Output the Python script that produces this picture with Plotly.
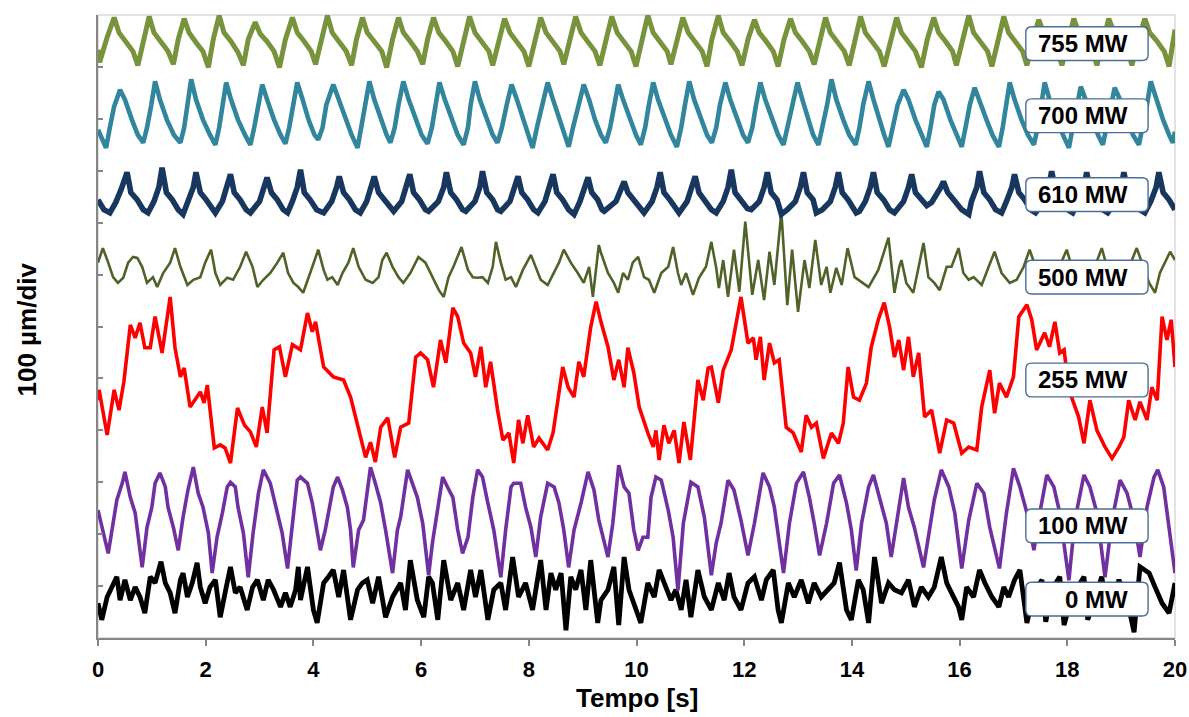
import plotly.graph_objects as go

# ---------------- data (time in s, displacement in µm relative to each trace's baseline) -------------
labels = ["755 MW", "700 MW", "610 MW", "500 MW", "255 MW", "100 MW", "0 MW"]
colors = ["#77933C", "#31859C", "#17375E", "#4F6228", "#FF0000", "#7030A0", "#000000"]
widths = [5.0, 4.6, 5.6, 2.6, 3.6, 3.6, 4.8]
baseline_um = [1147, 1010, 858, 709, 497, 227, 79]
label_center_um = [1145, 1006, 854, 695, 497, 216, 75]

p755 = [(0.00,-14),(0.03,-38),(0.17,10),
(0.30,48),(0.39,19),(0.52,2),(0.65,-17),(0.74,-44),(0.84,6),
(0.95,50),(1.04,19),(1.17,2),(1.30,-17),(1.40,-42),(1.49,6),
(1.60,46),(1.69,19),(1.82,0),(1.95,-17),(2.05,-48),(2.14,6),
(2.25,52),(2.34,19),(2.47,2),(2.60,-19),(2.70,-44),(2.79,6),
(2.92,39),(3.01,17),(3.14,2),(3.27,-17),(3.37,-48),(3.48,6),
(3.61,48),(3.70,19),(3.83,2),(3.96,-17),(4.04,-42),(4.15,6),
(4.26,52),(4.35,19),(4.48,2),(4.61,-17),(4.71,-44),(4.80,6),
(4.91,48),(5.00,19),(5.13,2),(5.27,-17),(5.36,-48),(5.47,6),
(5.58,48),(5.67,19),(5.80,2),(5.93,-17),(6.03,-42),(6.12,6),
(6.23,48),(6.33,19),(6.46,2),(6.59,-17),(6.68,-46),(6.79,6),
(6.90,50),(7.00,19),(7.13,2),(7.26,-17),(7.33,-44),(7.44,6),
(7.55,46),(7.65,19),(7.78,2),(7.91,-17),(8.00,-46),(8.11,6),
(8.22,48),(8.32,19),(8.45,2),(8.58,-17),(8.65,-42),(8.76,6),
(8.87,50),(8.97,19),(9.10,2),(9.23,-17),(9.32,-44),(9.43,6),
(9.54,50),(9.64,19),(9.77,2),(9.90,-17),(9.99,-46),(10.10,6),
(10.21,52),(10.31,19),(10.44,2),(10.57,-17),(10.64,-42),(10.75,6),
(10.86,48),(10.96,19),(11.09,2),(11.22,-17),(11.31,-46),(11.40,6),
(11.52,52),(11.61,19),(11.74,2),(11.87,-17),(11.96,-44),(12.07,6),
(12.19,44),(12.28,19),(12.41,2),(12.54,-17),(12.63,-46),(12.74,6),
(12.86,46),(12.95,19),(13.08,2),(13.21,-17),(13.30,-42),(13.40,6),
(13.51,48),(13.60,19),(13.73,2),(13.86,-17),(13.95,-44),(14.05,6),
(14.16,50),(14.25,19),(14.38,2),(14.51,-17),(14.60,-46),(14.72,6),
(14.83,48),(14.92,19),(15.05,2),(15.18,-17),(15.29,-48),(15.40,6),
(15.52,48),(15.61,19),(15.74,2),(15.87,-17),(15.94,-44),(16.06,6),
(16.17,52),(16.26,19),(16.39,2),(16.52,-17),(16.60,-46),(16.71,6),
(16.82,50),(16.91,19),(17.04,2),(17.17,-17),(17.25,-44),(17.36,6),
(17.47,44),(17.56,19),(17.69,2),(17.82,-17),(17.90,-44),(18.01,6),
(18.12,46),(18.21,19),(18.34,2),(18.47,-17),(18.55,-44),(18.66,6),
(18.77,46),(18.87,19),(19.00,2),(19.13,-17),(19.20,-44),(19.32,6),
(19.44,46),(19.53,19),(19.67,2),(19.80,-17),(19.89,-46),(20.00,25)]

p700 = [(0.00,-31),(0.15,-66),(0.22,-27),(0.30,14),(0.41,46),
(0.50,27),(0.63,-12),(0.74,-41),(0.84,-56),(0.91,-27),(0.99,17),(1.06,62),
(1.15,27),(1.28,-12),(1.41,-41),(1.53,-56),(1.60,-27),(1.66,17),(1.73,66),
(1.82,27),(1.95,-12),(2.08,-41),(2.18,-60),(2.25,-27),(2.31,17),(2.38,60),
(2.47,27),(2.60,-12),(2.73,-41),(2.83,-60),(2.90,-27),(2.98,17),(3.05,56),
(3.14,27),(3.27,-12),(3.39,-41),(3.48,-58),(3.55,-27),(3.63,17),(3.70,60),
(3.80,27),(3.91,-12),(4.02,-41),(4.09,-50),(4.17,-27),(4.24,17),(4.37,56),
(4.47,27),(4.60,-12),(4.71,-41),(4.82,-66),(4.89,-27),(4.97,17),(5.04,62),
(5.13,27),(5.25,-12),(5.36,-41),(5.43,-56),(5.51,-27),(5.58,17),(5.67,62),
(5.77,27),(5.90,-12),(6.01,-41),(6.12,-58),(6.20,-27),(6.27,17),(6.34,60),
(6.44,27),(6.57,-12),(6.68,-41),(6.79,-60),(6.87,-27),(6.92,17),(7.00,62),
(7.09,27),(7.22,-12),(7.33,-41),(7.42,-56),(7.50,-27),(7.59,17),(7.68,56),
(7.78,27),(7.91,-12),(8.00,-41),(8.07,-66),(8.15,-27),(8.26,17),(8.35,60),
(8.45,27),(8.58,-12),(8.67,-41),(8.74,-64),(8.82,-27),(8.93,17),(9.02,56),
(9.12,27),(9.23,-12),(9.34,-41),(9.43,-56),(9.51,-27),(9.58,17),(9.66,56),
(9.75,27),(9.88,-12),(9.99,-41),(10.08,-60),(10.16,-27),(10.23,17),(10.31,60),
(10.40,27),(10.53,-12),(10.64,-41),(10.75,-64),(10.83,-27),(10.90,17),(10.98,62),
(11.07,27),(11.20,-12),(11.31,-41),(11.40,-56),(11.48,-27),(11.55,17),(11.65,60),
(11.74,27),(11.87,-12),(11.98,-41),(12.07,-56),(12.15,-27),(12.22,17),(12.30,60),
(12.39,27),(12.52,-12),(12.63,-41),(12.73,-60),(12.80,-27),(12.89,17),(12.99,60),
(13.08,27),(13.19,-12),(13.28,-41),(13.38,-60),(13.45,-27),(13.54,17),(13.62,66),
(13.71,27),(13.84,-12),(13.95,-41),(14.07,-60),(14.14,-27),(14.21,17),(14.31,62),
(14.40,27),(14.51,-12),(14.60,-41),(14.68,-64),(14.75,-27),(14.85,17),(14.96,46),
(15.05,27),(15.18,-12),(15.29,-41),(15.39,-64),(15.46,-27),(15.53,17),(15.61,42),
(15.70,27),(15.83,-12),(15.94,-41),(16.04,-64),(16.11,-27),(16.19,17),(16.28,50),
(16.37,27),(16.50,-12),(16.61,-41),(16.73,-64),(16.80,-27),(16.86,17),(16.93,60),
(17.02,27),(17.15,-12),(17.27,-41),(17.38,-60),(17.45,-27),(17.51,17),(17.58,60),
(17.67,27),(17.80,-12),(17.92,-41),(18.03,-66),(18.10,-27),(18.18,17),(18.25,52),
(18.34,27),(18.47,-12),(18.57,-41),(18.66,-60),(18.73,-27),(18.81,17),(18.88,50),
(18.98,27),(19.11,-12),(19.22,-41),(19.33,-60),(19.40,-27),(19.48,17),(19.55,62),
(19.65,27),(19.78,-12),(19.89,-41),(19.96,-56),(20.00,-35)]

p610 = [(0.00,-14),(0.11,-33),(0.22,-39),(0.33,-19),(0.43,6),
(0.54,39),(0.61,0),(0.73,-14),(0.84,-33),(0.93,-39),(1.04,-17),(1.13,10),
(1.19,48),(1.27,0),(1.38,-14),(1.49,-33),(1.58,-42),(1.67,-17),(1.77,10),
(1.82,39),(1.90,0),(2.01,-14),(2.12,-33),(2.18,-39),(2.31,-17),(2.40,10),
(2.46,35),(2.53,0),(2.64,-14),(2.75,-33),(2.83,-39),(3.00,-17),(3.09,10),
(3.14,29),(3.22,0),(3.33,-14),(3.44,-33),(3.52,-39),(3.61,-17),(3.70,10),
(3.76,44),(3.83,0),(3.94,-14),(4.06,-33),(4.19,-39),(4.34,-17),(4.43,10),
(4.48,31),(4.56,0),(4.67,-14),(4.78,-33),(4.87,-39),(4.99,-17),(5.08,10),
(5.13,31),(5.21,0),(5.32,-14),(5.43,-31),(5.49,-36),(5.64,-17),(5.73,10),
(5.79,35),(5.86,0),(5.97,-14),(6.08,-33),(6.14,-36),(6.32,-17),(6.42,10),
(6.47,39),(6.55,0),(6.66,-14),(6.77,-33),(6.83,-36),(7.00,-17),(7.09,10),
(7.14,41),(7.22,0),(7.33,-14),(7.42,-33),(7.48,-36),(7.65,-17),(7.74,10),
(7.80,31),(7.87,0),(7.98,-14),(8.09,-33),(8.17,-39),(8.30,-17),(8.39,10),
(8.45,35),(8.52,0),(8.63,-14),(8.74,-33),(8.84,-42),(8.95,-17),(9.04,10),
(9.10,29),(9.17,0),(9.28,-14),(9.36,-33),(9.40,-36),(9.62,-17),(9.71,10),
(9.77,21),(9.84,0),(9.95,-14),(10.08,-33),(10.14,-39),(10.29,-17),(10.38,10),
(10.44,39),(10.51,0),(10.62,-14),(10.73,-33),(10.79,-39),(10.94,-17),(11.03,10),
(11.09,31),(11.16,0),(11.27,-14),(11.39,-33),(11.48,-39),(11.61,-17),(11.70,10),
(11.76,44),(11.83,0),(11.94,-14),(12.06,-31),(12.13,-33),(12.28,-17),(12.37,10),
(12.43,39),(12.50,0),(12.61,-14),(12.69,-42),(12.80,-33),(12.95,-17),(13.04,10),
(13.10,39),(13.17,0),(13.28,-14),(13.34,-39),(13.45,-33),(13.60,-17),(13.69,10),
(13.75,39),(13.82,0),(13.93,-14),(14.08,-39),(14.14,-36),(14.25,-17),(14.34,10),
(14.40,39),(14.47,0),(14.59,-14),(14.70,-33),(14.79,-39),(14.96,-17),(15.05,10),
(15.11,35),(15.18,0),(15.29,-14),(15.39,-25),(15.48,-19),(15.57,-6),(15.65,10),
(15.70,21),(15.78,0),(15.89,-14),(16.04,-33),(16.17,-42),(16.22,-17),(16.32,10),
(16.37,41),(16.45,0),(16.56,-14),(16.67,-33),(16.78,-39),(16.87,-17),(16.97,10),
(17.02,35),(17.10,0),(17.21,-14),(17.32,-33),(17.41,-39),(17.56,-17),(17.65,10),
(17.71,41),(17.79,0),(17.90,-14),(18.01,-33),(18.10,-39),(18.21,-17),(18.31,10),
(18.36,39),(18.44,0),(18.55,-14),(18.66,-33),(18.75,-39),(18.90,-17),(19.00,10),
(19.05,39),(19.13,0),(19.24,-14),(19.35,-33),(19.44,-39),(19.55,-17),(19.65,10),
(19.70,39),(19.78,0),(19.89,-14),(20.00,-33)]

p500 = [(0.00,14),(0.09,42),(0.19,14),(0.28,-14),(0.37,-25),(0.47,-15),(0.56,14),(0.65,25),
(0.73,23),(0.82,6),(0.91,-25),(1.02,-14),(1.10,-33),(1.21,-6),(1.34,14),(1.43,42),(1.53,6),
(1.66,-29),(1.77,-19),(1.90,-14),(1.99,14),(2.10,39),(2.18,-6),(2.27,-29),(2.40,-15),(2.51,-19),
(2.64,6),(2.75,35),(2.87,6),(2.96,-33),(3.07,-19),(3.20,-6),(3.33,14),(3.44,33),(3.53,-6),
(3.63,-25),(3.72,-33),(3.81,-44),(3.94,-6),(4.09,39),(4.19,0),(4.26,-19),(4.35,-14),(4.45,-29),
(4.54,-6),(4.65,14),(4.74,42),(4.84,6),(4.97,-19),(5.10,-25),(5.21,-14),(5.28,19),(5.36,33),
(5.47,6),(5.58,-14),(5.67,-25),(5.80,-6),(5.95,25),(6.08,14),(6.21,-14),(6.33,-39),(6.42,-52),
(6.51,-14),(6.60,6),(6.75,44),(6.87,0),(6.96,-14),(7.05,-15),(7.14,-14),(7.24,-25),(7.33,6),
(7.39,54),(7.48,14),(7.57,-19),(7.67,-14),(7.76,-33),(7.89,0),(8.04,29),(8.13,6),(8.22,-19),
(8.35,-29),(8.47,-6),(8.56,14),(8.65,39),(8.78,14),(8.91,-6),(9.02,-25),(9.12,6),(9.19,-52),
(9.30,48),(9.34,33),(9.47,-6),(9.58,-25),(9.66,-44),(9.75,-6),(9.84,-19),(9.93,14),(10.03,25),
(10.14,-14),(10.23,-19),(10.33,-44),(10.46,-6),(10.59,6),(10.68,44),(10.77,-6),(10.83,-29),
(10.92,-6),(11.05,-48),(11.16,-15),(11.29,6),(11.39,54),(11.48,4),(11.53,-35),(11.61,19),
(11.70,-52),(11.81,39),(11.91,-42),(12.02,93),(12.15,-48),(12.26,19),(12.37,-58),(12.47,35),
(12.56,-29),(12.69,112),(12.80,-68),(12.89,39),(13.00,-81),(13.12,19),(13.21,-35),(13.32,58),
(13.43,-29),(13.53,6),(13.60,-44),(13.71,4),(13.81,-29),(13.92,42),(13.99,10),(14.05,-14),
(14.31,-33),(14.49,0),(14.68,62),(14.79,-44),(14.88,6),(14.92,19),(15.01,-25),(15.14,-44),
(15.24,6),(15.33,52),(15.42,-14),(15.53,-25),(15.63,-39),(15.76,6),(15.85,6),(15.98,42),
(16.07,-6),(16.17,-19),(16.26,-14),(16.41,-29),(16.54,6),(16.65,35),(16.78,-6),(16.93,-25),
(17.06,-19),(17.19,6),(17.30,39),(17.53,-29),(17.75,-19),(17.99,39),(18.18,-29),(18.42,-19),
(18.64,42),(18.83,-29),(19.05,-19),(19.29,42),(19.52,-25),(19.63,-44),(19.72,-6),(19.81,14),
(19.91,35),(20.00,19)]

p255 = [(0.00,-39),(0.02,-19),(0.17,-106),(0.30,-19),(0.39,-58),(0.48,-4),(0.60,106),(0.69,81),
(0.78,110),(0.87,62),(0.97,62),(1.06,122),(1.19,52),(1.34,160),(1.43,62),(1.53,6),(1.60,23),
(1.71,-52),(1.90,-23),(1.97,-44),(2.03,-10),(2.16,-131),(2.27,-125),(2.36,-131),(2.46,-160),
(2.59,-54),(2.72,-87),(2.83,-100),(2.94,-129),(3.05,-52),(3.14,-102),(3.27,58),(3.37,64),
(3.48,6),(3.61,68),(3.76,58),(3.89,129),(3.98,93),(4.04,112),(4.19,25),(4.37,6),(4.56,0),
(4.69,-33),(4.84,-97),(4.97,-149),(5.06,-120),(5.15,-158),(5.25,-91),(5.38,-73),(5.51,-149),
(5.62,-91),(5.77,-83),(5.90,44),(5.99,52),(6.12,39),(6.23,-14),(6.36,77),(6.46,33),(6.59,139),
(6.68,122),(6.79,71),(6.92,52),(7.01,6),(7.11,64),(7.20,-14),(7.29,35),(7.42,-58),(7.52,-116),
(7.63,-102),(7.72,-160),(7.81,-77),(7.89,-122),(7.98,-68),(8.09,-129),(8.19,-112),(8.35,-135),
(8.45,-102),(8.54,-39),(8.63,25),(8.73,-14),(8.84,-33),(8.93,35),(9.02,6),(9.15,102),(9.25,151),
(9.34,112),(9.47,64),(9.58,0),(9.67,39),(9.77,-14),(9.84,62),(9.95,14),(10.05,-52),(10.21,-102),
(10.31,-129),(10.36,-97),(10.42,-154),(10.51,-87),(10.60,-122),(10.70,-97),(10.79,-160),
(10.88,-81),(11.00,-154),(11.14,0),(11.24,-39),(11.33,23),(11.39,25),(11.52,-44),(11.61,19),
(11.76,58),(11.85,110),(11.94,160),(12.07,71),(12.17,81),(12.22,39),(12.30,83),(12.37,0),
(12.47,71),(12.56,33),(12.65,39),(12.78,-91),(12.91,-102),(13.06,-139),(13.15,-68),(13.25,-91),
(13.34,-83),(13.47,-151),(13.62,-102),(13.75,-122),(13.84,-83),(13.93,25),(14.03,-33),
(14.14,-39),(14.27,-6),(14.36,64),(14.49,116),(14.60,149),(14.70,102),(14.79,44),(14.87,77),
(14.96,19),(15.05,83),(15.14,6),(15.24,52),(15.35,-71),(15.48,-58),(15.63,-141),(15.76,-77),
(15.89,-83),(16.04,-141),(16.17,-129),(16.32,-135),(16.41,-52),(16.56,19),(16.65,-64),
(16.74,-6),(16.87,-33),(17.00,6),(17.10,122),(17.19,135),(17.25,145),(17.34,116),(17.43,58),
(17.58,91),(17.67,64),(17.77,112),(17.86,52),(17.94,58),(18.03,-19),(18.21,-71),(18.31,-122),
(18.42,-39),(18.55,-97),(18.70,-129),(18.83,-151),(18.96,-129),(19.05,-110),(19.14,-39),
(19.26,-77),(19.35,-42),(19.48,-77),(19.57,-14),(19.67,-39),(19.76,122),(19.85,77),(19.93,116),
(20.00,25)]

p100 = [(0.00,19),(0.19,-64),(0.35,39),(0.45,71),(0.50,93),(0.60,44),(0.69,14),(0.74,-25),
(0.82,-91),(0.91,-14),(1.00,25),(1.06,71),(1.15,91),(1.25,64),(1.30,25),(1.40,-14),(1.49,-58),
(1.58,6),(1.67,58),(1.77,102),(1.86,52),(1.95,25),(2.05,-25),(2.12,-102),(2.21,-33),(2.31,14),
(2.40,64),(2.46,73),(2.55,64),(2.60,25),(2.70,-25),(2.79,-110),(2.88,-25),(2.98,52),(3.07,97),
(3.20,71),(3.33,14),(3.42,-25),(3.52,-93),(3.61,0),(3.70,77),(3.76,83),(3.89,71),(3.98,33),
(4.07,-19),(4.13,-58),(4.22,-19),(4.32,33),(4.37,64),(4.45,83),(4.54,58),(4.63,25),(4.69,-19),
(4.74,-91),(4.84,-19),(4.93,0),(5.06,102),(5.15,71),(5.25,33),(5.34,-19),(5.47,-102),(5.56,-19),
(5.62,6),(5.75,97),(5.84,71),(5.93,44),(6.03,-6),(6.14,-106),(6.21,-44),(6.31,19),(6.40,83),
(6.49,64),(6.59,44),(6.68,-19),(6.77,-64),(6.87,-33),(6.96,44),(7.05,97),(7.14,83),(7.24,33),
(7.35,-19),(7.48,-110),(7.57,-19),(7.67,64),(7.72,71),(7.85,71),(7.94,25),(8.04,-14),(8.13,-71),
(8.22,6),(8.35,71),(8.47,64),(8.56,33),(8.65,-19),(8.74,-91),(8.84,-19),(8.97,33),(9.10,93),
(9.21,58),(9.30,0),(9.47,-71),(9.56,-6),(9.67,106),(9.77,64),(9.86,52),(9.95,-19),(10.03,-58),
(10.12,-33),(10.21,-33),(10.27,44),(10.36,83),(10.46,77),(10.59,19),(10.68,-33),(10.77,-135),
(10.87,-6),(10.92,25),(11.01,73),(11.14,64),(11.26,6),(11.39,-106),(11.48,-44),(11.57,-6),
(11.70,77),(11.81,58),(11.94,0),(12.07,-68),(12.19,-6),(12.35,91),(12.47,64),(12.56,25),
(12.73,-102),(12.84,-6),(12.97,71),(13.10,93),(13.21,44),(13.30,-6),(13.40,-68),(13.53,-6),
(13.66,71),(13.77,87),(13.90,33),(13.99,-19),(14.08,-97),(14.18,-6),(14.31,64),(14.40,87),
(14.51,44),(14.64,-6),(14.73,-71),(14.83,-6),(14.96,81),(15.05,25),(15.16,-14),(15.33,-91),
(15.44,-14),(15.53,39),(15.66,97),(15.80,64),(15.91,14),(16.04,-93),(16.17,0),(16.32,71),
(16.45,52),(16.56,-14),(16.74,-93),(16.87,14),(17.00,100),(17.12,64),(17.25,14),(17.38,-58),
(17.49,14),(17.62,87),(17.75,64),(17.86,14),(18.03,-116),(18.14,0),(18.31,87),(18.42,64),
(18.55,14),(18.70,-110),(18.83,0),(18.98,77),(19.11,52),(19.24,0),(19.35,-71),(19.48,25),
(19.61,83),(19.68,97),(19.79,64),(19.89,-14),(20.00,-102)]

p0 = [(0.00,-12),(0.07,-44),(0.17,0),(0.28,27),(0.35,39),(0.41,-6),(0.50,33),(0.60,-6),(0.69,19),
(0.78,0),(0.87,-31),(0.97,39),(1.06,27),(1.17,68),(1.25,27),(1.34,8),(1.43,-31),(1.53,33),
(1.58,46),(1.66,0),(1.75,27),(1.84,66),(1.90,19),(1.99,-12),(2.08,19),(2.18,33),(2.27,-39),
(2.36,8),(2.46,58),(2.55,8),(2.64,19),(2.77,-25),(2.87,19),(2.96,33),(3.07,-6),(3.16,33),
(3.26,14),(3.39,-19),(3.48,8),(3.57,-19),(3.67,14),(3.72,58),(3.76,-6),(3.89,58),(4.00,-25),
(4.07,-50),(4.19,27),(4.28,39),(4.37,52),(4.47,0),(4.56,52),(4.69,-44),(4.82,14),(4.91,27),
(5.00,33),(5.10,-12),(5.21,39),(5.34,-39),(5.47,0),(5.62,27),(5.71,-25),(5.80,71),(5.93,-6),
(6.05,-39),(6.14,39),(6.21,27),(6.31,-44),(6.42,71),(6.55,-6),(6.68,27),(6.79,-25),(6.92,52),
(7.01,0),(7.11,52),(7.24,-44),(7.35,14),(7.48,27),(7.57,-25),(7.70,77),(7.81,0),(7.94,27),
(8.07,-25),(8.22,71),(8.32,-25),(8.41,46),(8.50,14),(8.60,46),(8.69,-64),(8.78,39),(8.87,14),
(8.97,52),(9.06,-25),(9.15,71),(9.28,-50),(9.34,-6),(9.47,14),(9.58,58),(9.67,-54),(9.77,77),
(9.86,14),(9.95,-12),(10.08,-50),(10.21,27),(10.33,0),(10.42,52),(10.51,27),(10.64,-6),
(10.73,14),(10.83,-25),(10.92,33),(11.01,-39),(11.14,52),(11.26,0),(11.39,-25),(11.52,27),
(11.63,-6),(11.72,46),(11.81,0),(11.94,-25),(12.07,27),(12.19,39),(12.32,-6),(12.41,33),
(12.54,52),(12.63,-25),(12.69,-50),(12.82,27),(12.93,0),(13.06,33),(13.19,-12),(13.30,27),
(13.43,0),(13.56,14),(13.67,27),(13.77,66),(13.90,-25),(13.99,-44),(14.12,33),(14.21,14),
(14.31,-50),(14.42,77),(14.55,-12),(14.68,27),(14.79,14),(14.92,8),(15.05,33),(15.16,-19),
(15.29,19),(15.42,0),(15.53,19),(15.66,77),(15.76,27),(15.85,8),(15.98,-19),(16.04,-44),
(16.13,19),(16.26,0),(16.37,52),(16.47,27),(16.60,0),(16.73,-19),(16.82,19),(16.91,0),
(17.02,33),(17.12,52),(17.19,-12),(17.25,-50),(17.40,14),(17.53,33),(17.60,-48),(17.71,14),
(17.86,39),(17.94,-54),(18.08,0),(18.31,39),(18.38,-44),(18.51,0),(18.64,39),(18.75,-35),
(18.96,33),(19.11,-6),(19.24,-68),(19.35,58),(19.52,46),(19.63,19),(19.76,-12),(19.89,-31),
(19.94,0),(20.00,27)]

series = [p755, p700, p610, p500, p255, p100, p0]

# ---------------- figure -------------
FONT = "Arial, Liberation Sans, sans-serif"
fig = go.Figure()

for i in reversed(range(len(series))):
    pts = series[i]
    fig.add_trace(go.Scatter(
        x=[p[0] for p in pts],
        y=[baseline_um[i] + p[1] for p in pts],
        mode="lines",
        line=dict(color=colors[i], width=widths[i]),
        name=labels[i],
        hoverinfo="skip",
        showlegend=False,
    ))

box_x0, box_x1 = 17.23, 19.50
box_half_h = 32.5
rx, ry = 0.11, 11.0
text_right = 19.16
shapes = [dict(type="rect", xref="paper", yref="paper", x0=0, x1=1, y0=0, y1=1,
               line=dict(color="#D9D9D9", width=1.5), layer="below")]
annotations = []
for lab, yc in zip(labels, label_center_um):
    x0, x1 = box_x0, box_x1
    y0, y1 = yc - box_half_h, yc + box_half_h
    path = (f"M {x0+rx},{y0} L {x1-rx},{y0} Q {x1},{y0} {x1},{y0+ry} "
            f"L {x1},{y1-ry} Q {x1},{y1} {x1-rx},{y1} L {x0+rx},{y1} "
            f"Q {x0},{y1} {x0},{y1-ry} L {x0},{y0+ry} Q {x0},{y0} {x0+rx},{y0} Z")
    shapes.append(dict(type="path", path=path, xref="x", yref="y",
                       fillcolor="white", line=dict(color="#4A6E96", width=1.4), layer="above"))
    annotations.append(dict(x=text_right, y=yc, xref="x", yref="y", text=lab,
                            showarrow=False, xanchor="right", yanchor="middle",
                            font=dict(family=FONT, size=24, color="black", weight="bold")))

annotations.append(dict(x=-0.066, y=0.495, xref="paper", yref="paper", text="100 µm/div",
                        textangle=-90, showarrow=False, xanchor="center", yanchor="middle",
                        font=dict(family=FONT, size=26, color="black", weight="bold")))
annotations.append(dict(x=0.5, y=-0.096, xref="paper", yref="paper", text="Tempo [s]",
                        showarrow=False, xanchor="center", yanchor="middle",
                        font=dict(family=FONT, size=26, color="black", weight="bold")))

fig.update_layout(
    template="none",
    width=1189, height=717, autosize=False,
    margin=dict(l=98, r=14, t=15, b=79, pad=0, autoexpand=False),
    paper_bgcolor="white", plot_bgcolor="white",
    shapes=shapes, annotations=annotations,
    hovermode=False,
    xaxis=dict(range=[0, 20], tickmode="linear", tick0=0, dtick=2, automargin=False,
               ticks="outside", ticklen=6, tickwidth=1.5, tickcolor="#868686",
               showline=True, linecolor="#868686", linewidth=1.5,
               showgrid=False, zeroline=False, ticklabelstandoff=5,
               tickfont=dict(family=FONT, size=22, color="black", weight="bold")),
    yaxis=dict(range=[0, 1200], tickmode="linear", tick0=0, dtick=100, automargin=False,
               ticks="inside", ticklen=5, tickwidth=1.5, tickcolor="#868686",
               showline=True, linecolor="#868686", linewidth=1.5,
               showticklabels=False, showgrid=False, zeroline=False),
)

fig.write_html("out.html", config={"displayModeBar": False})
